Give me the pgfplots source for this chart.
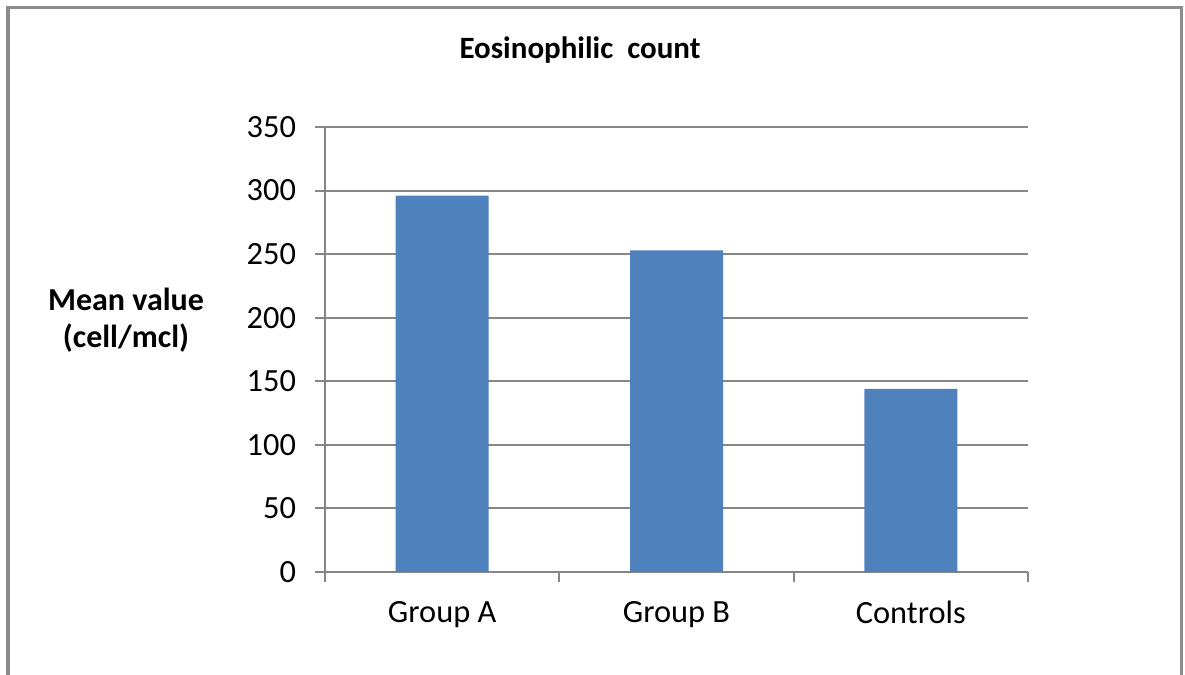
\documentclass[border=0pt]{standalone}
\usepackage{pgfplots}
\pgfplotsset{compat=1.18}
\usepackage{fontspec}
\setmainfont{Carlito}
\definecolor{barblue}{HTML}{4F81BD}
\definecolor{gridgray}{HTML}{868686}
\definecolor{framegray}{HTML}{8C8C8C}
\begin{document}
\begin{tikzpicture}
\useasboundingbox (0,0) rectangle (592.5bp,337.5bp);
\begin{scope}
\clip (0,0) rectangle (592.5bp,337.5bp);
\draw[framegray, line width=1.6bp] (4bp,-10bp) -- (4bp,333.8bp) -- (590.8bp,333.8bp) -- (590.8bp,-10bp);
\end{scope}
\node[font=\fontsize{15.5bp}{18bp}\selectfont\bfseries] at (290bp,312.5bp) {Eosinophilic\ \ count};
\node[font=\fontsize{16bp}{18.5bp}\selectfont\bfseries, align=center] at (63bp,177.5bp) {Mean value\\(cell/mcl)};
\begin{axis}[
  at={(162.5bp,51.5bp)}, anchor=south west,
  scale only axis, width=351.5bp, height=222.5bp,
  xmin=-0.5, xmax=2.5, ymin=0, ymax=350,
  axis x line*=bottom, axis y line*=left,
  axis line style={gridgray, line width=1bp, -},
  xtick={-0.5,0.5,1.5,2.5},
  x tick label as interval,
  xticklabels={Group A,Group B,Controls},
  ytick={0,50,...,350},
  ymajorgrids,
  grid style={gridgray, line width=1bp},
  tick align=outside,
  major tick length=5bp,
  tick style={gridgray, line width=1bp},
  /pgf/number format/assume math mode=true,
  ticklabel style={font=\fontsize{16.2bp}{19bp}\selectfont, text=black},
  yticklabel style={xshift=-6bp},
  xticklabel style={yshift=-6bp},
]
\addplot[ybar, bar width=46.5bp, fill=barblue, draw=none] coordinates {(0,296) (1,253) (2,144)};
\end{axis}
\end{tikzpicture}
\end{document}
